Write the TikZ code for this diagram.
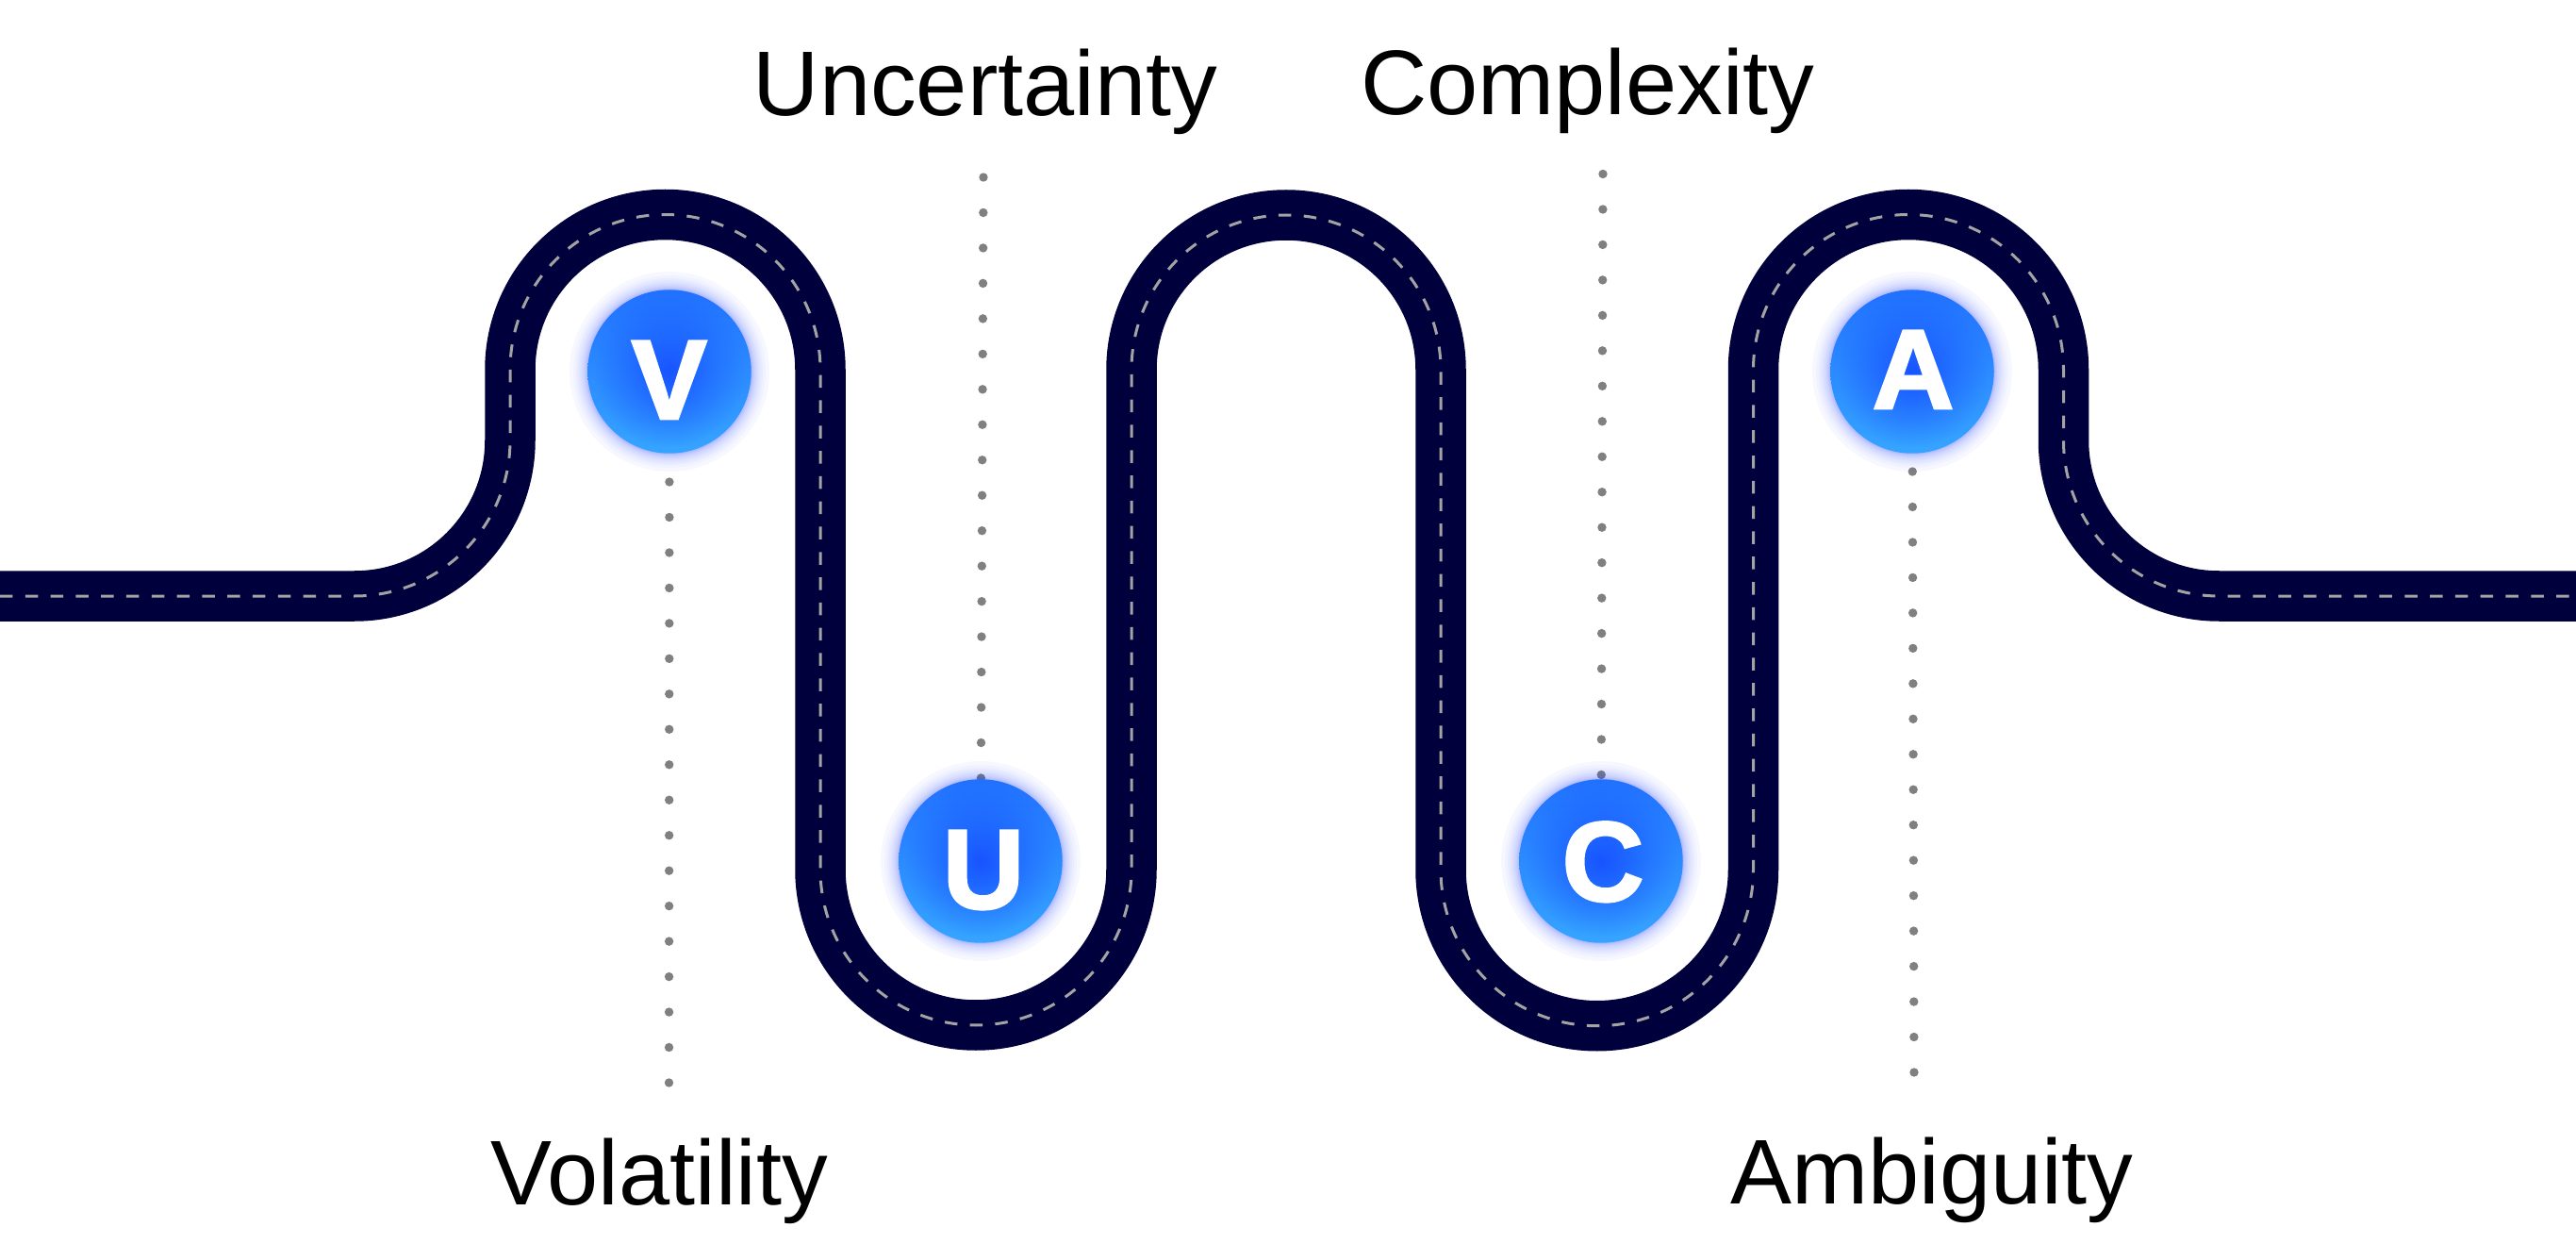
\documentclass[tikz,border=0pt]{standalone}
\usepackage{fontspec}
\setmainfont{Liberation Sans}
\newfontfamily\badgefont[FakeBold=2.4]{Liberation Sans Bold}
\usetikzlibrary{positioning,calc,fadings,backgrounds}

\definecolor{roadblue}{RGB}{0,0,60}
\definecolor{laneline}{RGB}{163,163,163}
\definecolor{badgetop}{RGB}{33,112,255}
\definecolor{badgebottom}{RGB}{54,165,255}
\definecolor{badgecore}{RGB}{24,84,255}
\definecolor{badgehalo}{RGB}{40,70,255}
\definecolor{dotgray}{RGB}{128,128,128}

\tikzfading[name=corefade, inner color=transparent!0, outer color=transparent!100]

\tikzset{
	road/.style={line width=0.535cm, draw=roadblue, postaction={draw=laneline, line width=0.03cm, dash pattern=on 0.135cm off 0.133cm}},
	badge/.style={circle, inner sep=0pt, minimum size=1.735cm, top color=badgetop, bottom color=badgebottom},
	badgetext/.style={anchor=base, inner sep=0pt, text=white, font=\badgefont\fontsize{34}{34}\selectfont},
	dotline/.style={draw=dotgray, line width=0.094cm, line cap=round, dash pattern=on 0pt off 0.3747cm},
	caption/.style={anchor=base, inner sep=0pt, text=black, font=\fontsize{27.7}{28}\selectfont},
}

\begin{document}
\begin{tikzpicture}
		\useasboundingbox (0,0) rectangle (27.32,13.18);
		
		\draw[road] (0,6.86) -- (3.76,6.86) arc (270:360:1.65) -- (5.41,9.26) arc (180:0:1.645) -- (8.70,3.96) arc (180:360:1.65) -- (12.00,9.26) arc (180:0:1.64) -- (15.28,3.96) arc (180:360:1.6575) -- (18.595,9.26) arc (180:0:1.645) -- (21.885,8.51) arc (180:270:1.65) -- (27.32,6.86);
		
		\foreach \n/\x/\y in {V/7.10/9.24, U/10.40/4.05, C/16.98/4.05, A/20.28/9.24}{
			\foreach \r in {0.875,0.88,0.885,0.89,0.90,0.91,0.92,0.935,0.95,0.97,0.99,1.02,1.06}
				\fill[badgehalo, opacity=0.035] (\x,\y) circle (\r);
			\node [badge] (\n) at (\x,\y) {};
			\fill[badgecore, path fading=corefade] (\n.center) circle (0.8);
		}
		
		\node [badgetext] (Vl) at (7.097,8.74) {V};
		\node [badgetext] (Ul) at (10.43,3.55) {U};
		\node [badgetext] (Cl) at (17.00,3.63) {C};
		\node [badgetext] (Al) at (20.29,8.85) {A};
		
		\node [caption] (Vt) at (6.995,0.41) {Volatility};
		\node [caption] (Ut) at (10.45,11.95) {Uncertainty};
		\node [caption] (Ct) at (16.84,11.96) {Complexity};
		\node [caption] (At) at (20.49,0.42) {Ambiguity};
		
		\coordinate (Ve) at (7.095,1.70);
		\coordinate (Ue) at (10.43,11.30);
		\coordinate (Ce) at (17.00,11.335);
		\coordinate (Ae) at (20.30,1.81);
		
		\begin{scope}[on background layer]
			\draw[dotline] (Ve) -- (V);
			\draw[dotline] (Ue) -- (U);
			\draw[dotline] (Ce) -- (C);
			\draw[dotline] (Ae) -- (A);
		\end{scope}
	\end{tikzpicture}
\end{document}
